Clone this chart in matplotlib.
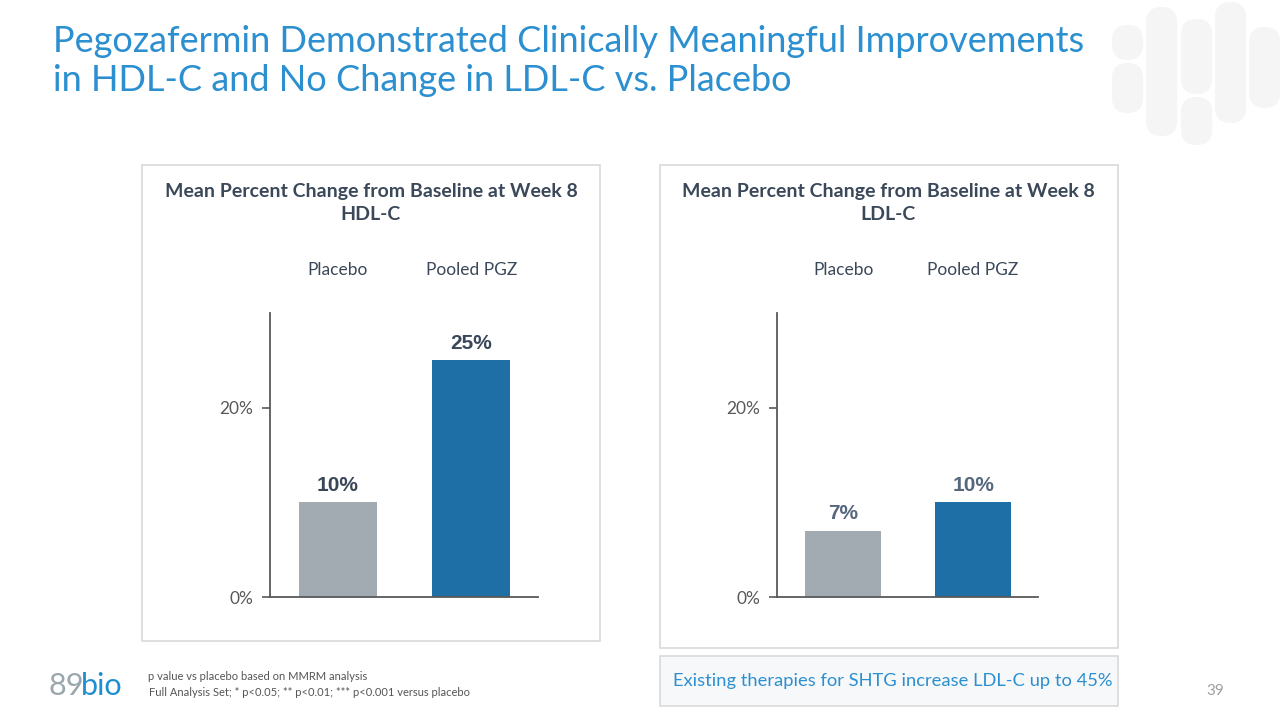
import matplotlib
matplotlib.use("Agg")
import matplotlib.pyplot as plt
from matplotlib.patches import FancyBboxPatch, Rectangle

# ---- data ----
categories = ["Placebo", "Pooled PGZ"]
hdl_values = [10, 25]
ldl_values = [7, 10]
hdl_labels = ["10%", "25%"]
ldl_labels = ["7%", "10%"]
yticks = [0, 20]
ytick_labels = ["0%", "20%"]

title_lines = "Pegozafermin Demonstrated Clinically Meaningful Improvements\nin HDL-C and No Change in LDL-C vs. Placebo"
panel_titles = ["Mean Percent Change from Baseline at Week 8\nHDL-C",
                "Mean Percent Change from Baseline at Week 8\nLDL-C"]
callout = "Existing therapies for SHTG increase LDL-C up to 45%"
foot1 = "p value vs placebo based on MMRM analysis"
foot2 = "Full Analysis Set; * p<0.05; ** p<0.01; *** p<0.001 versus placebo"

# ---- styles ----
W, H = 1280, 720
bar_colors = ["#a2abb1", "#1d6fa5"]
title_blue = "#2b8fd0"
dark = "#3b4859"
FONT = ["Lato", "DejaVu Sans"]

fig = plt.figure(figsize=(12.8, 7.2), dpi=100)
fig.patch.set_facecolor("white")

def fx(x):
    return x / W

def fy(y):
    return 1 - y / H

# decorative capsules top right
caps = [(1112, 25, 1143, 60), (1112, 63, 1143, 113), (1146, 7, 1177, 136),
        (1181, 19, 1212, 94), (1181, 97, 1212, 145), (1215, 2, 1246, 123),
        (1249, 27, 1280, 108)]
for x0, y0, x1, y1 in caps:
    r = (x1 - x0) / 2
    p = FancyBboxPatch((fx(x0 + r - 0.001), fy(y1 - r)), 0.0001, fy(y0 + r) - fy(y1 - r),
                       boxstyle=f"round,pad={r / W}", transform=fig.transFigure,
                       facecolor="#f5f5f5", edgecolor="none", mutation_aspect=W / H,
                       zorder=-5)
    fig.patches.append(p)

# main title
fig.text(fx(53), fy(61), title_lines, ha="left", va="center", fontsize=26,
         color=title_blue, family=FONT, linespacing=1.25)

# panel boxes
for (x0, y0, x1, y1, fc) in [(142, 165, 600, 641, "white"),
                             (660, 165, 1118, 648, "white"),
                             (660, 656, 1118, 706, "#f7f8fa")]:
    fig.patches.append(Rectangle((fx(x0), fy(y1)), fx(x1 - x0), (y1 - y0) / H,
                                 transform=fig.transFigure, facecolor=fc,
                                 edgecolor="#d9d9d9", linewidth=1.2, zorder=-1))

fig.text(fx(893), fy(681), callout, ha="center", va="center", fontsize=13.2,
         color=title_blue, family=FONT)

def panel(ax_left, ax_right, values, labels, ptitle, title_x, lab_color):
    ax = fig.add_axes([fx(ax_left), fy(597), fx(ax_right - ax_left), (597 - 313) / H])
    ax.set_zorder(2)
    x = list(range(len(categories)))
    ax.bar(x, values, width=0.585, color=bar_colors)
    ax.set_xlim(-0.51, 1.5)
    ax.set_ylim(0, 30)
    ax.set_yticks(yticks)
    ax.set_yticklabels(ytick_labels, family=FONT, fontsize=12.5, color="#595959")
    ax.tick_params(axis="y", length=6, width=1.2, color="#595959", pad=6)
    ax.set_xticks(x)
    ax.set_xticklabels(categories, family=FONT, fontsize=12.5, color=dark)
    ax.xaxis.tick_top()
    ax.tick_params(axis="x", length=0, pad=25)
    for s in ["top", "right"]:
        ax.spines[s].set_visible(False)
    for s in ["left", "bottom"]:
        ax.spines[s].set_color("#595959")
        ax.spines[s].set_linewidth(1.3)
    ax.patch.set_alpha(0)
    for xi, v, lab in zip(x, values, labels):
        ax.text(xi, v + 0.8, lab, ha="center", va="bottom", fontsize=15,
                fontweight="bold", color=lab_color, family=["Liberation Sans", "DejaVu Sans"])
    fig.text(fx(title_x), fy(203), ptitle, ha="center", va="center", fontsize=14,
             fontweight="bold", color=dark, family=FONT, linespacing=1.5)
    return ax

panel(270, 538, hdl_values, hdl_labels, panel_titles[0], 371, "#3a4758")
panel(777, 1038, ldl_values, ldl_labels, panel_titles[1], 888, "#56687e")

# footnotes
fig.text(fx(148), fy(676), foot1, ha="left", va="center", fontsize=8,
         color="#555555", family=FONT)
fig.text(fx(149), fy(693), foot2, ha="left", va="center", fontsize=8,
         color="#555555", family=FONT)

# logo
fig.text(fx(49), fy(686), "89", ha="left", va="center", fontsize=22,
         color="#9aa6ad", family=FONT)
fig.text(fx(81), fy(686), "bio", ha="left", va="center", fontsize=22,
         color="#1f8fd2", family=FONT)

fig.text(fx(1224), fy(691), "39", ha="right", va="center", fontsize=11,
         color="#a0a0a0", family=FONT)

fig.savefig("out.png", dpi=100, facecolor="white")
